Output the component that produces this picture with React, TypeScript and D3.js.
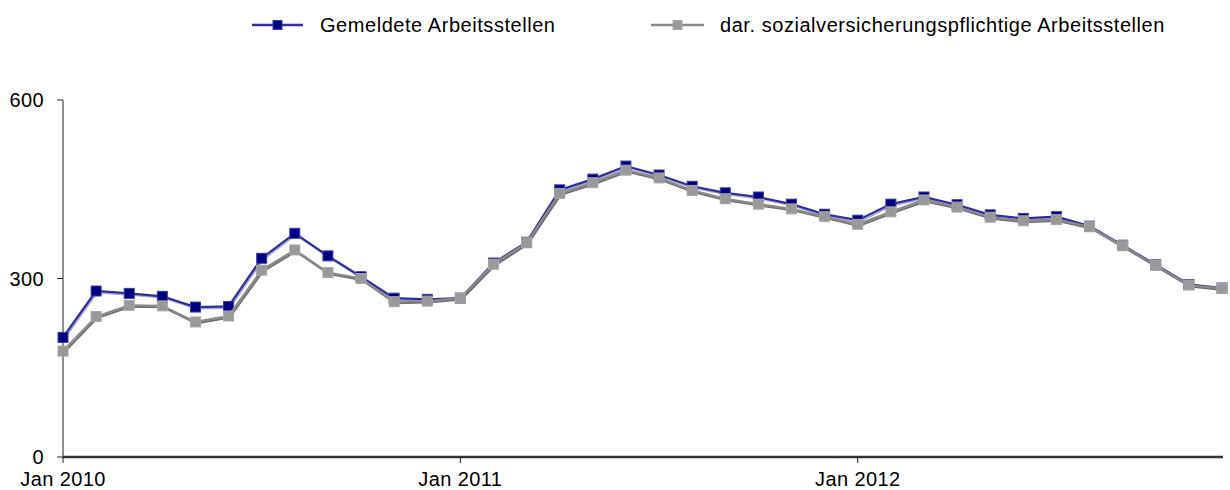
import React from "react";
import * as d3 from "d3";

const months: string[] = [
  "2010-01","2010-02","2010-03","2010-04","2010-05","2010-06","2010-07","2010-08","2010-09","2010-10","2010-11","2010-12",
  "2011-01","2011-02","2011-03","2011-04","2011-05","2011-06","2011-07","2011-08","2011-09","2011-10","2011-11","2011-12",
  "2012-01","2012-02","2012-03","2012-04","2012-05","2012-06","2012-07","2012-08","2012-09","2012-10","2012-11","2012-12",
];

const gemeldete: number[] = [
  201, 279, 275, 270, 252, 253, 334, 376, 338, 303, 267, 265,
  267, 326, 361, 449, 467, 489, 474, 455, 444, 437, 425, 408,
  398, 425, 437, 424, 407, 401, 404, 388, 356, 323, 290, 284,
];

const svPflichtig: number[] = [
  178, 236, 255, 254, 227, 237, 314, 348, 310, 300, 261, 262,
  267, 324, 360, 443, 461, 482, 469, 448, 434, 425, 417, 404,
  391, 412, 432, 420, 403, 397, 399, 387, 355, 322, 289, 283,
];

const yTicks: number[] = [0, 300, 600];
const xTickMonths: string[] = ["2010-01", "2011-01", "2012-01"];
const xTickLabels: string[] = ["Jan 2010", "Jan 2011", "Jan 2012"];
const seriesNames: string[] = ["Gemeldete Arbeitsstellen", "dar. sozialversicherungspflichtige Arbeitsstellen"];

const W = 1230;
const H = 490;
const M = { left: 63, right: 1222, top: 100, bottom: 457 };
const FONT = "'Liberation Sans', Arial, sans-serif";

export default function App() {
  const x = d3.scaleLinear().domain([0, months.length - 1]).range([M.left, M.right]);
  const y = d3.scaleLinear().domain([0, 600]).range([M.bottom, M.top]);
  const line = d3
    .line<number>()
    .x((_, i) => x(i))
    .y((d) => y(d));

  const series = [
    { name: seriesNames[0], data: gemeldete, stroke: "#2e2e9c", fill: "#00007f", mstroke: "#3a3aa8", shadow: "#a8a8c8" },
    { name: seriesNames[1], data: svPflichtig, stroke: "#8a8a8a", fill: "#999999", mstroke: "#a6a6a6", shadow: "#707070" },
  ];

  const ms = 10;
  const legendItems = [
    { x0: 252, x1: 303, tx: 320 },
    { x0: 651, x1: 704, tx: 720 },
  ];

  return (
    <svg
      width={W}
      height={H}
      style={{ position: "absolute", left: 0, top: 0, background: "#fff" }}
      fontFamily={FONT}
    >
      {/* legend */}
      {series.map((s, k) => {
        const li = legendItems[k];
        const cy = 25;
        return (
          <g key={"leg" + k}>
            <line x1={li.x0} x2={li.x1} y1={cy} y2={cy} stroke={s.stroke} strokeWidth={2.5} />
            <rect x={(li.x0 + li.x1) / 2 - 4.5} y={cy - 4.5} width={9} height={9} fill={s.fill} stroke={s.mstroke} strokeWidth={1} />
            <text x={li.tx} y={cy + 7} fontSize={20} letterSpacing={0.55} fill="#000">
              {s.name}
            </text>
          </g>
        );
      })}

      {/* y axis */}
      <line x1={M.left} x2={M.left} y1={M.top} y2={M.bottom} stroke="#222" strokeWidth={1} />
      {yTicks.map((t) => (
        <g key={"yt" + t}>
          <line x1={M.left - 6} x2={M.left} y1={y(t)} y2={y(t)} stroke="#222" strokeWidth={1} />
          <text x={44} y={y(t) + 7} textAnchor="end" fontSize={20} letterSpacing={0.4} fill="#000">
            {t}
          </text>
        </g>
      ))}

      {/* series */}
      {series.map((s, k) => (
        <g key={"s" + k}>
          <path d={line(s.data) || ""} fill="none" stroke={s.shadow} strokeWidth={2} transform="translate(1,1.5)" />
          <path d={line(s.data) || ""} fill="none" stroke={s.stroke} strokeWidth={2.2} />
          {s.data.map((v, i) => (
            <rect
              key={i}
              x={x(i) - ms / 2}
              y={y(v) - ms / 2}
              width={ms}
              height={ms}
              fill={s.fill}
              stroke={s.mstroke}
              strokeWidth={1}
            />
          ))}
        </g>
      ))}

      {/* x axis */}
      <line x1={M.left} x2={M.right + 1} y1={M.bottom} y2={M.bottom} stroke="#333" strokeWidth={2.5} />
      {xTickMonths.map((m, k) => {
        const i = months.indexOf(m);
        return (
          <g key={"xt" + m}>
            <line x1={x(i)} x2={x(i)} y1={M.bottom} y2={M.bottom + 6} stroke="#222" strokeWidth={1} />
            <text x={x(i)} y={486} textAnchor="middle" fontSize={20} letterSpacing={0.4} fill="#000">
              {xTickLabels[k]}
            </text>
          </g>
        );
      })}
    </svg>
  );
}
